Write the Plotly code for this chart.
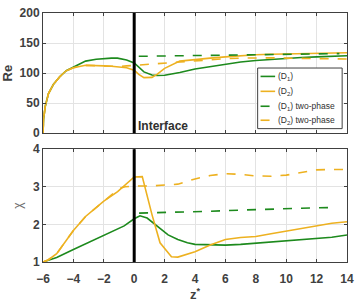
import plotly.graph_objects as go

# ---- data ----
x_re = [-6, -5.96, -5.85, -5.64, -5.32, -4.9, -4.47, -4, -3.2, -2.5, -2, -1.5, -1.1, -0.5, 0, 0.3, 0.64, 1.17, 1.5, 2, 3, 4, 5, 6, 7, 8, 9, 10, 11, 12, 13, 14]
re_d1 = [0, 24, 45, 66, 81, 94, 104, 110, 120, 123, 124.5, 125, 125, 122, 117, 110, 102, 97, 96, 96.5, 101, 107, 111, 115, 118.5, 121, 123, 125, 126, 127, 128, 129]
re_d2 = [0, 24, 45, 66, 81, 94, 104, 109, 113, 113, 112, 111.5, 110.5, 109, 105, 98, 92.5, 93, 98, 108, 120, 123, 125, 127, 129, 130.5, 131.5, 132, 133, 133.5, 134, 134]
x_re_d1_tp = [0.3, 2, 4, 6, 8, 10, 12, 13.5]
re_d1_tp = [128, 128.5, 129, 129.5, 130.5, 131, 132, 132.5]
x_re_d2_tp = [-6, -5.96, -5.85, -5.64, -5.32, -4.9, -4.47, -4, -3.2, -2.5, -2, -1.5, -1.1, -0.5, 0, 1, 2, 3, 4, 5, 6, 7, 8, 9, 10, 11, 12, 13, 14]
re_d2_tp = [0, 24, 45, 66, 81, 94, 104, 109, 113, 113, 112, 111.5, 111, 112, 113, 115, 117, 119, 121, 122.5, 124, 125, 125.5, 125.5, 125, 124.5, 124, 123.5, 123.5]

x_chi_d1 = [-6, -5.1, -4, -3, -2, -0.66, 0, 0.38, 0.85, 1.6, 2.23, 2.87, 3.5, 4, 5, 6, 7, 8, 9, 10, 11, 12, 13, 14]
chi_d1 = [1.0, 1.12, 1.33, 1.52, 1.72, 1.96, 2.15, 2.23, 2.17, 1.93, 1.72, 1.6, 1.51, 1.47, 1.45, 1.45, 1.47, 1.5, 1.53, 1.56, 1.59, 1.62, 1.66, 1.72]
x_chi_d2 = [-6, -5.64, -5.1, -4.58, -4, -3.2, -2, -1.09, 0, 0.53, 1.17, 1.7, 2.45, 2.87, 3.5, 4, 5, 6, 7, 8, 9, 10, 11, 12, 13, 14]
chi_d2 = [1.0, 1.06, 1.22, 1.51, 1.84, 2.21, 2.62, 2.87, 3.26, 3.27, 2.26, 1.51, 1.14, 1.13, 1.2, 1.27, 1.45, 1.6, 1.65, 1.68, 1.75, 1.82, 1.9, 1.97, 2.03, 2.07]
x_chi_d1_tp = [0.32, 2.87, 5, 7, 9, 11, 13]
chi_d1_tp = [2.3, 2.32, 2.35, 2.38, 2.41, 2.43, 2.45]
x_chi_d2_tp = [-6, -5.64, -5.1, -4.58, -4, -3.2, -2, -1.5, -1, -0.6, 0, 1, 2.87, 4, 5, 6, 7, 8, 9, 10, 11, 12, 13, 14]
chi_d2_tp = [1.0, 1.06, 1.22, 1.51, 1.84, 2.21, 2.62, 2.78, 2.95, 3.0, 3.02, 3.02, 3.07, 3.21, 3.3, 3.35, 3.33, 3.29, 3.28, 3.31, 3.38, 3.45, 3.46, 3.46]

x_ticks = [-6, -4, -2, 0, 2, 4, 6, 8, 10, 12, 14]
re_ticks = [0, 50, 100, 150, 200]
chi_ticks = [1, 2, 3, 4]

legend_labels = ["(D<sub>1</sub>)", "(D<sub>2</sub>)", "(D<sub>1</sub>) two-phase", "(D<sub>2</sub>) two-phase"]

GREEN = "#1d8a1d"
YELLOW = "#EDB120"
AX = "#404040"
FONT = "Liberation Sans"

W, H = 360, 302
ML, MR, MT, MB = 41, 6, 7, 28
PW, PH = W - ML - MR, H - MT - MB


def px2paper(px, py):
    return (px - ML) / PW, (H - MB - py) / PH


fig = go.Figure()
lw = 1.6
series = [
    (x_re, re_d1, GREEN, "solid", "x", "y"),
    (x_re, re_d2, YELLOW, "solid", "x", "y"),
    (x_re_d1_tp, re_d1_tp, GREEN, "dash", "x", "y"),
    (x_re_d2_tp, re_d2_tp, YELLOW, "dash", "x", "y"),
    (x_chi_d1, chi_d1, GREEN, "solid", "x2", "y2"),
    (x_chi_d2, chi_d2, YELLOW, "solid", "x2", "y2"),
    (x_chi_d1_tp, chi_d1_tp, GREEN, "dash", "x2", "y2"),
    (x_chi_d2_tp, chi_d2_tp, YELLOW, "dash", "x2", "y2"),
]
for i, (xs, ys, c, d, xa, ya) in enumerate(series):
    name = legend_labels[i % 4]
    fig.add_trace(go.Scatter(x=xs, y=ys, mode="lines", line=dict(color=c, width=lw, dash=d),
                             name=name, showlegend=False, xaxis=xa, yaxis=ya))

axcommon = dict(showline=True, linecolor=AX, linewidth=1, mirror="ticks", ticks="inside", ticklen=3,
                tickcolor=AX, gridcolor="#e3e3e3", zeroline=False,
                tickfont=dict(family=FONT, size=12, color=AX, weight="bold"))

shapes = [
    dict(type="line", xref="x", yref="y domain", x0=0, x1=0, y0=0, y1=1, line=dict(color="black", width=3)),
    dict(type="line", xref="x2", yref="y2 domain", x0=0, x1=0, y0=0, y1=1, line=dict(color="black", width=3)),
]
annotations = [
    dict(text="<b>Interface</b>", x=0.12, y=12, xref="x", yref="y", xanchor="left", yanchor="middle",
         showarrow=False, font=dict(family=FONT, size=12, color="#303030")),
]

# legend box (drawn manually to match compact layout)
bx0, by0 = px2paper(262, 131)
bx1, by1 = px2paper(349, 66)
shapes.append(dict(type="rect", xref="paper", yref="paper", x0=bx0, x1=bx1, y0=by0, y1=by1,
                   line=dict(color=AX, width=1), fillcolor="white", layer="above"))
leg_colors = [GREEN, YELLOW, GREEN, YELLOW]
leg_dash = ["solid", "solid", "dash", "dash"]
leg_y = [75, 91, 107, 122]
for lab, c, d, yy in zip(legend_labels, leg_colors, leg_dash, leg_y):
    lx0, ly = px2paper(265, yy)
    lx1, _ = px2paper(280, yy)
    shapes.append(dict(type="line", xref="paper", yref="paper", x0=lx0, x1=lx1, y0=ly, y1=ly,
                       line=dict(color=c, width=1.6, dash="dash" if d == "dash" else "solid"), layer="above"))
    tx, ty = px2paper(281, yy)
    annotations.append(dict(text=lab, x=tx, y=ty, xref="paper", yref="paper", xanchor="left", yanchor="middle",
                            showarrow=False, font=dict(family=FONT, size=8.5, color="#303030")))

fig.update_layout(
    width=W, height=H,
    margin=dict(l=ML, r=MR, t=MT, b=MB),
    paper_bgcolor="white", plot_bgcolor="white",
    font=dict(family=FONT, color=AX),
    xaxis=dict(range=[-6, 14], tickvals=x_ticks, showticklabels=False, anchor="y", domain=[0, 1], **axcommon),
    yaxis=dict(range=[0, 200], tickvals=re_ticks, domain=[0.517, 1], anchor="x",
               title=dict(text="<b>Re</b>", font=dict(size=13, color=AX), standoff=4), **axcommon),
    xaxis2=dict(range=[-6, 14], tickvals=x_ticks, anchor="y2", domain=[0, 1], ticklabelstandoff=6,
                title=dict(text="<b>z<sup>*</sup></b>", font=dict(size=13, color=AX), standoff=0), **axcommon),
    yaxis2=dict(range=[1, 4], tickvals=chi_ticks, domain=[0, 0.453], anchor="x2",
                title=dict(text="χ", font=dict(size=12, color="#707070"), standoff=7), **axcommon),
    showlegend=False,
    shapes=shapes,
    annotations=annotations,
)

fig.write_html("out.html")
